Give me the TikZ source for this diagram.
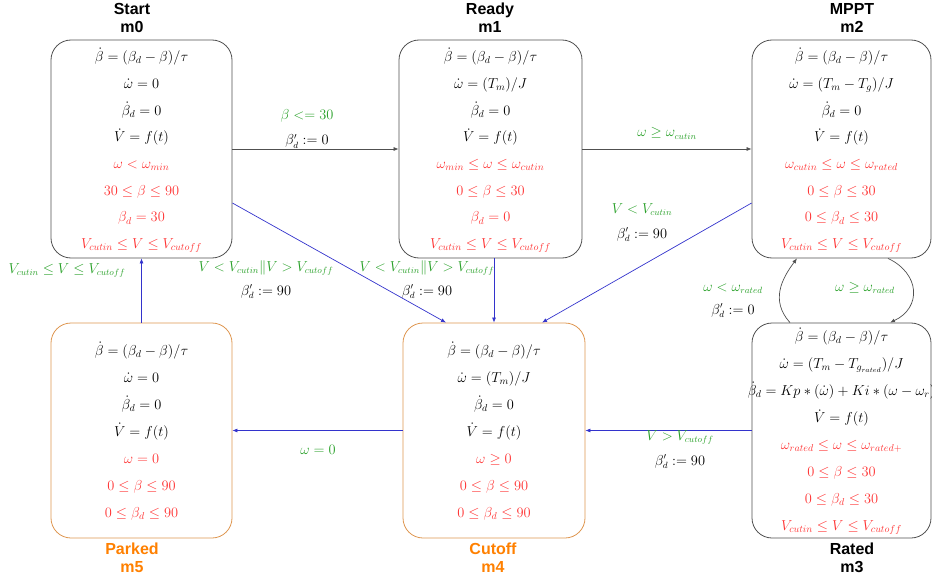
\documentclass[tikz,border=0pt]{standalone}
\usepackage{fontspec}
\newfontfamily\titlefont{Liberation Sans}
\usetikzlibrary{arrows.meta}
\definecolor{ink}{RGB}{0,0,0}
\definecolor{cred}{RGB}{255,51,51}
\definecolor{cgreen}{RGB}{40,160,40}
\definecolor{cblue}{RGB}{51,51,204}
\definecolor{cgray}{RGB}{80,80,80}
\definecolor{corange}{RGB}{222,150,80}
\definecolor{ctitle}{RGB}{255,128,0}
\newcommand{\statelines}[5]{% name, x, y0, dy, list
  \foreach \t [count=\i] in {#5} {%
    \ifnum\i>4 \def\cc{cred}\else\def\cc{ink}\fi
    \node[txt,text=\cc] (#1-\i) at (#2,{#3+(\i-1)*#4}) {\t};
  }}
\begin{document}
\begin{tikzpicture}[x=1pt,y=-1pt,
  statebox/.style={draw=cgray,line width=0.8pt,rounded corners=20pt,inner sep=0pt,fill=none},
  endbox/.style={statebox,draw=corange},
  txt/.style={font=\fontsize{14}{16}\selectfont,text height=10pt,text depth=3.5pt,inner sep=0pt},
  lab/.style={font=\fontsize{13.5}{16}\selectfont,text height=9.5pt,text depth=3.5pt,inner sep=0pt},
  glab/.style={lab,text=cgreen},
  ttl/.style={font=\titlefont\bfseries\fontsize{16}{18}\selectfont,anchor=base,inner sep=0pt},
  ottl/.style={ttl,text=ctitle},
  garrow/.style={draw=cgray,line width=0.7pt,-{Latex[length=5pt,width=4pt]}},
  barrow/.style={draw=cblue,line width=0.7pt,-{Latex[length=5pt,width=4pt]}}]
\useasboundingbox (0,0) rectangle (932,583);

% state boxes
\node[statebox,minimum width=181pt,minimum height=218pt] (m0) at (141.5,149) {};
\node[statebox,minimum width=183pt,minimum height=218pt] (m1) at (490.5,149) {};
\node[statebox,minimum width=179pt,minimum height=218pt] (m2) at (841.5,149) {};
\node[statebox,minimum width=179pt,minimum height=215pt] (m3) at (841.5,430.5) {};
\node[endbox,minimum width=182pt,minimum height=215pt] (m4) at (494,430.5) {};
\node[endbox,minimum width=181pt,minimum height=215pt] (m5) at (141.5,430.5) {};

% titles
\node[ttl] (t0a) at (132,15) {Start};
\node[ttl] (t0b) at (132,33) {m0};
\node[ttl] (t1a) at (490,15) {Ready};
\node[ttl] (t1b) at (490,33) {m1};
\node[ttl] (t2a) at (852,15) {MPPT};
\node[ttl] (t2b) at (852,33) {m2};
\node[ttl] (t3a) at (852,554) {Rated};
\node[ttl] (t3b) at (852,572) {m3};
\node[ottl] (t4a) at (493,554) {Cutoff};
\node[ottl] (t4b) at (493,572) {m4};
\node[ottl] (t5a) at (132,554) {Parked};
\node[ottl] (t5b) at (132,572) {m5};

% contents
\statelines{c0}{141.5}{58.5}{26.7}{{$\dot\beta=(\beta_d-\beta)/\tau$},{$\dot\omega=0$},{$\dot\beta_d=0$},{$\dot V=f(t)$},{$\omega<\omega_{min}$},{$30\le\beta\le90$},{$\beta_d=30$},{$V_{cutin}\le V\le V_{cutoff}$}}
\statelines{c1}{490.5}{58.5}{26.7}{{$\dot\beta=(\beta_d-\beta)/\tau$},{$\dot\omega=(T_m)/J$},{$\dot\beta_d=0$},{$\dot V=f(t)$},{$\omega_{min}\le\omega\le\omega_{cutin}$},{$0\le\beta\le30$},{$\beta_d=0$},{$V_{cutin}\le V\le V_{cutoff}$}}
\statelines{c2}{841.5}{58.5}{26.7}{{$\dot\beta=(\beta_d-\beta)/\tau$},{$\dot\omega=(T_m-T_g)/J$},{$\dot\beta_d=0$},{$\dot V=f(t)$},{$\omega_{cutin}\le\omega\le\omega_{rated}$},{$0\le\beta\le30$},{$0\le\beta_d\le30$},{$V_{cutin}\le V\le V_{cutoff}$}}
\statelines{c3}{841.5}{338.5}{27}{{$\dot\beta=(\beta_d-\beta)/\tau$},{$\dot\omega=(T_m-T_{g_{rated}})/J$},{$\dot\beta_d=Kp*(\dot\omega)+Ki*(\omega-\omega_r)$},{$\dot V=f(t)$},{$\omega_{rated}\le\omega\le\omega_{rated+}$},{$0\le\beta\le30$},{$0\le\beta_d\le30$},{$V_{cutin}\le V\le V_{cutoff}$}}
\statelines{c4}{494}{352}{27}{{$\dot\beta=(\beta_d-\beta)/\tau$},{$\dot\omega=(T_m)/J$},{$\dot\beta_d=0$},{$\dot V=f(t)$},{$\omega\ge0$},{$0\le\beta\le90$},{$0\le\beta_d\le90$}}
\statelines{c5}{141.5}{352}{27}{{$\dot\beta=(\beta_d-\beta)/\tau$},{$\dot\omega=0$},{$\dot\beta_d=0$},{$\dot V=f(t)$},{$\omega=0$},{$0\le\beta\le90$},{$0\le\beta_d\le90$}}

% connectors
\draw[garrow] (m0.east) -- (m1.west);
\draw[garrow] (m1.east) -- (m2.west);
\draw[barrow] ([yshift=-54pt]m0.east) -- ([xshift=-48pt]m4.north);
\draw[barrow] (m1.south -| m4.north) -- (m4.north);
\draw[barrow] ([yshift=-54pt]m2.west) -- ([xshift=48pt]m4.north);
\draw[barrow] (m3.west) -- (m4.east);
\draw[barrow] (m4.west) -- (m5.east);
\draw[barrow] (m5.north) -- (m0.south);
\draw[garrow] ([xshift=46.5pt]m2.south) .. controls +(32,15) and +(32,-15) .. ([xshift=48.5pt]m3.north);
\draw[garrow] ([xshift=-51.5pt]m3.north) .. controls +(-20,-22) and +(-15,20) .. ([xshift=-44.5pt]m2.south);

% connector labels
\node[glab] (l01a) at (307,117) {$\beta<=30$};
\node[lab] (l01b) at (307,142) {$\beta'_d:=0$};
\node[glab] (l12) at (667,134) {$\omega\ge\omega_{cutin}$};
\node[glab] (l24a) at (642,210) {$V<V_{cutin}$};
\node[lab] (l24b) at (642,235) {$\beta'_d:=90$};
\node[glab] (l04a) at (266,268) {$V<V_{cutin}\|V>V_{cutoff}$};
\node[lab] (l04b) at (266,292) {$\beta'_d:=90$};
\node[glab] (l14a) at (427,268) {$V<V_{cutin}\|V>V_{cutoff}$};
\node[lab] (l14b) at (427,292) {$\beta'_d:=90$};
\node[glab] (l34a) at (680,437) {$V>V_{cutoff}$};
\node[lab] (l34b) at (680,462) {$\beta'_d:=90$};
\node[glab] (l45) at (318,451) {$\omega=0$};
\node[glab] (l50) at (67,270) {$V_{cutin}\le V\le V_{cutoff}$};
\node[glab] (l23) at (865,288) {$\omega\ge\omega_{rated}$};
\node[glab] (l32a) at (733,288) {$\omega<\omega_{rated}$};
\node[lab] (l32b) at (733,311) {$\beta'_d:=0$};
\end{tikzpicture}
\end{document}
